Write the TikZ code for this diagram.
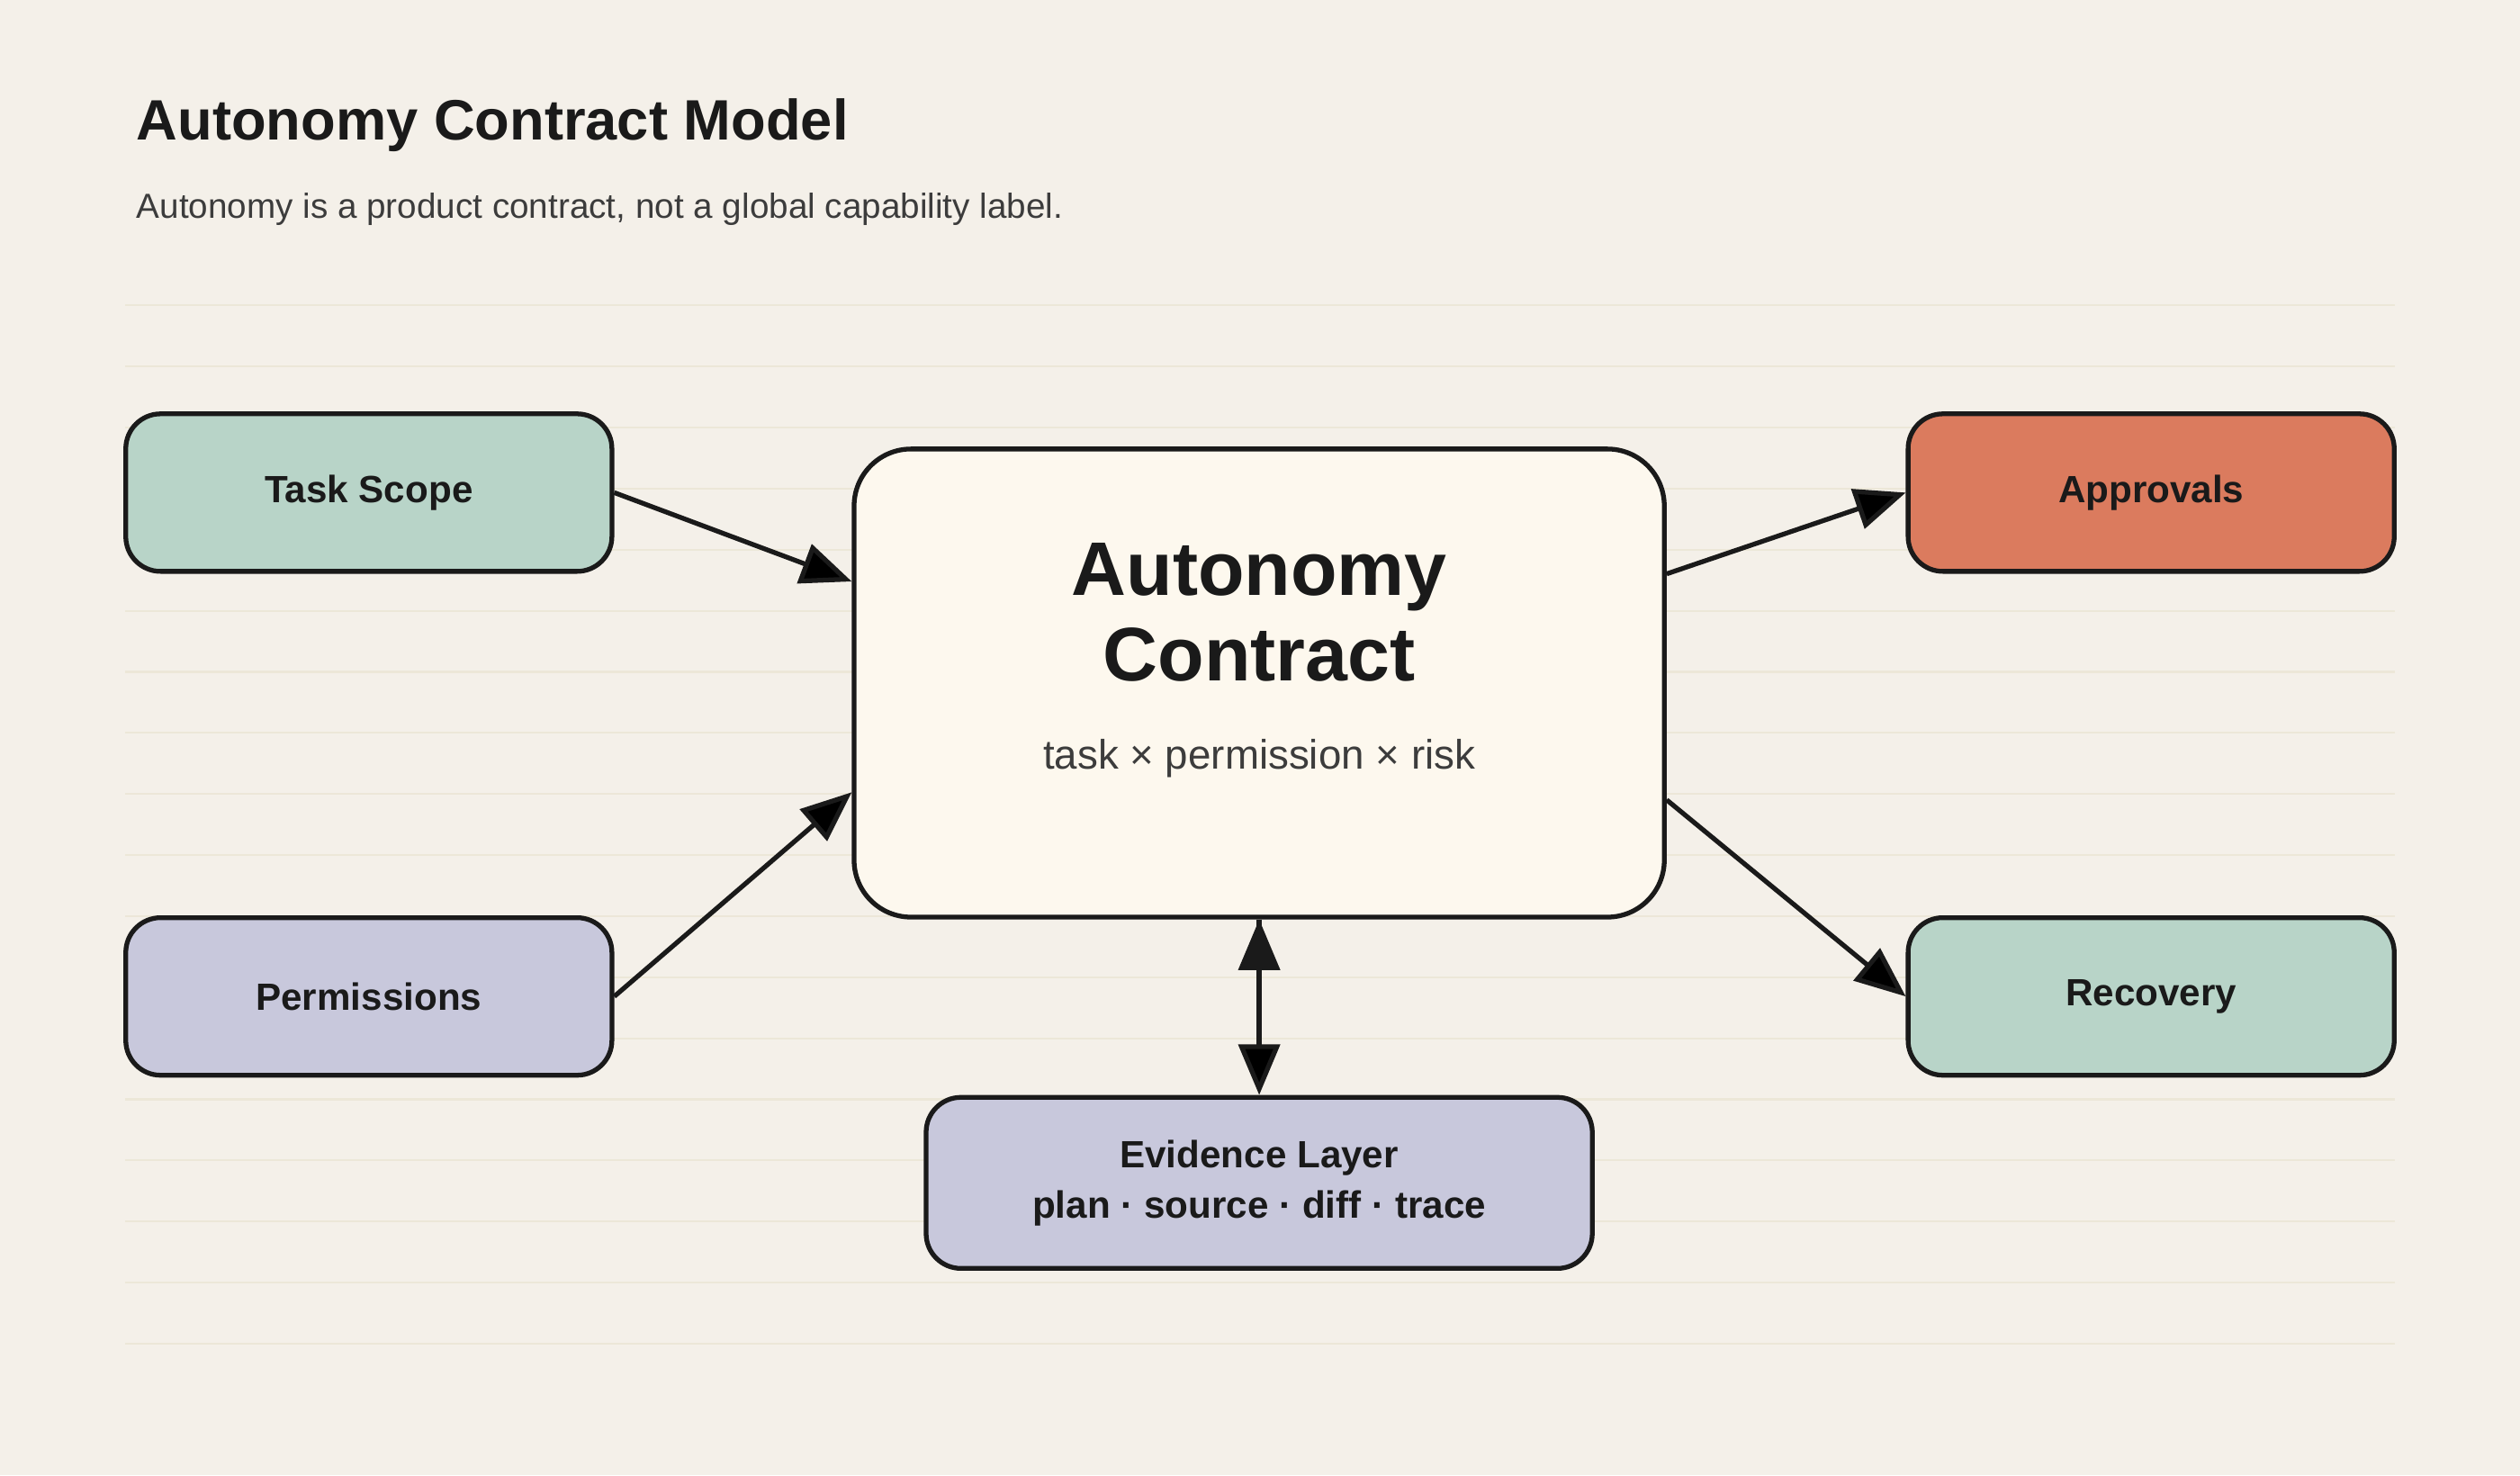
\documentclass[tikz,border=0pt]{standalone}
\usepackage{fontspec}
\setmainfont{Liberation Sans}
\usetikzlibrary{arrows.meta}
\definecolor{paper}{HTML}{F4F0E9}
\definecolor{rule}{HTML}{ECE7D8}
\definecolor{sage}{HTML}{B8D4C8}
\definecolor{lilac}{HTML}{C8C8DC}
\definecolor{clay}{HTML}{DB7B5E}
\definecolor{cream}{HTML}{FDF8EE}
\definecolor{ink}{HTML}{1A1A1A}
\begin{document}
\begin{tikzpicture}[x=0.017857cm,y=-0.017857cm,>={Triangle[length=16pt,width=13pt]},
  box/.style={draw=ink,line width=1.5pt,rounded corners=11pt,minimum width=5.4cm,minimum height=1.75cm,font=\fontsize{12}{14}\selectfont\bfseries,text=ink,align=center},
  core/.style={box,fill=cream,rounded corners=18pt,minimum width=9.0cm,minimum height=5.2cm},
  link/.style={draw=ink,line width=1.5pt}]

\fill[paper] (0,0) rectangle (1568,918);
\foreach \r in {190,228,...,836} \draw[rule,line width=0.6pt] (78,\r) -- (1490,\r);

\node[anchor=base west,font=\fontsize{18}{20}\selectfont\bfseries,text=ink] (ttl) at (78,87) {Autonomy Contract Model};
\node[anchor=base west,font=\fontsize{11}{13}\selectfont,text=ink!85] (sub) at (78,136) {Autonomy is a product contract, not a global capability label.};

\node[box,fill=sage]   (tsk) at (229.5,306.5) {Task Scope};
\node[box,fill=lilac]  (prm) at (229.5,620)   {Permissions};
\node[box,fill=clay]   (apr) at (1338.5,306.5) {Approvals};
\node[box,fill=sage]   (rec) at (1338.5,620)   {Recovery};
\node[box,fill=lilac,minimum width=7.4cm,minimum height=1.9cm,font=\fontsize{12}{16}\selectfont\bfseries] (evi) at (783.5,736) {Evidence Layer\\plan · source · diff · trace};
\node[core] (ctr) at (783.5,425) {};
\node[font=\fontsize{24}{27}\selectfont\bfseries,text=ink,align=center] (ctrt) at (783.5,381) {Autonomy\\Contract};
\node[font=\fontsize{13}{15}\selectfont,text=ink!85] (ctrs) at (783.5,472) {task × permission × risk};

	\path[->,link] (tsk.east) edge (ctr.166)
	               (prm.east) edge (ctr.195)
	               (ctr.15)   edge (apr.west)
	               (ctr.344)  edge (rec.west)
	               (ctr.south) edge (evi.north);
\end{tikzpicture}
\end{document}
